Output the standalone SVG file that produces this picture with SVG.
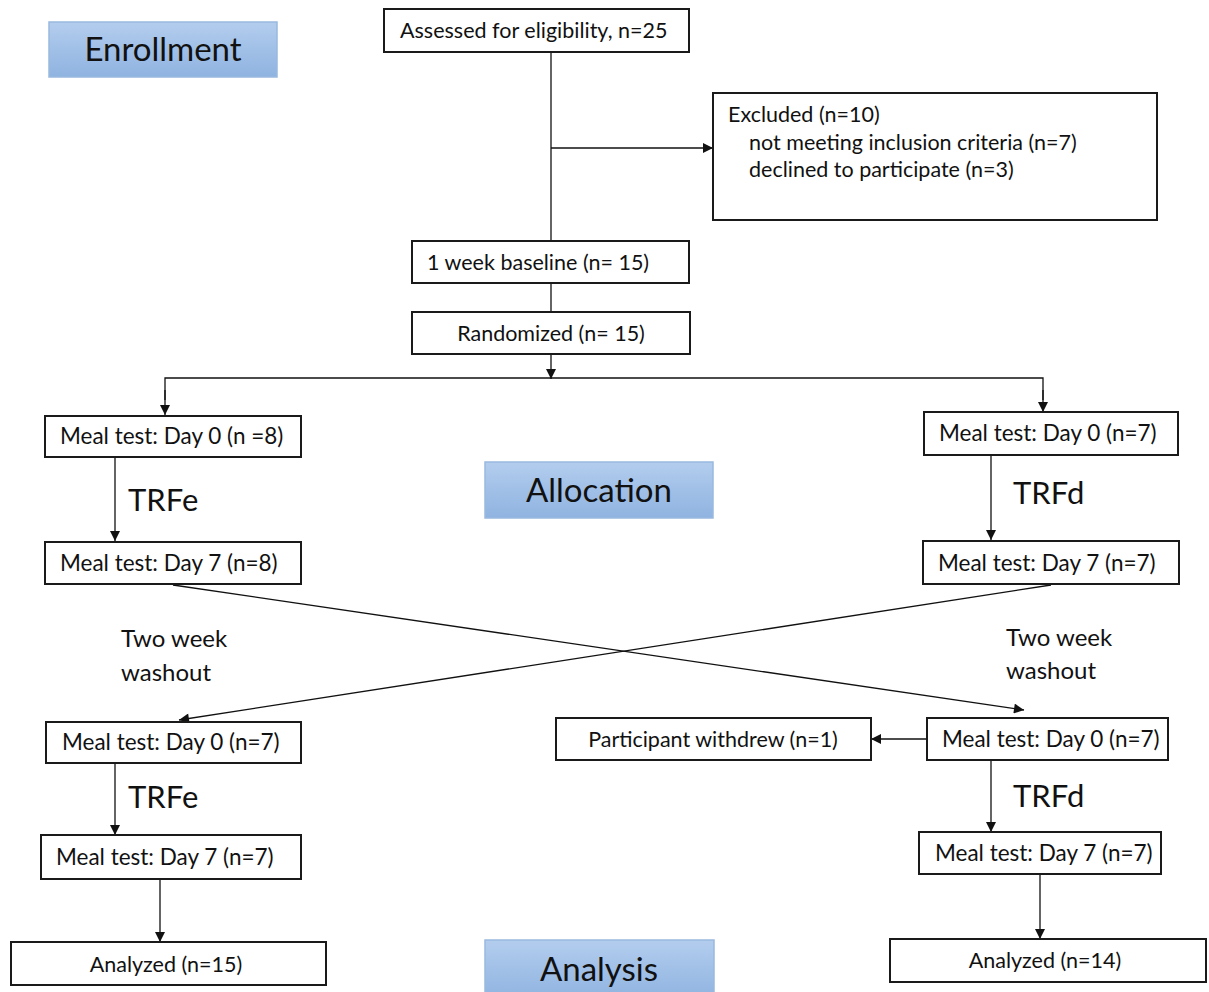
<svg xmlns="http://www.w3.org/2000/svg" width="1209" height="992" viewBox="0 0 1209 992">
<style>
.box{fill:#fff;stroke:#1a1a1a;stroke-width:2}
.t{font-family:Lato,"Liberation Sans",Arial,sans-serif;font-size:21.5px;fill:#111}
.m{font-size:22.5px}
.c{text-anchor:middle}
.big{font-family:Lato,"Liberation Sans",Arial,sans-serif;font-size:31px;fill:#111}
.st{font-family:Lato,"Liberation Sans",Arial,sans-serif;font-size:33px;fill:#111;text-anchor:middle}
.mid{font-family:Lato,"Liberation Sans",Arial,sans-serif;font-size:24px;fill:#111}
.stage{fill:url(#g);stroke:#9ab9e0;stroke-width:1.5}
.ln{stroke:#111;stroke-width:1.3;fill:none}
.ar{stroke:#111;stroke-width:1.3;fill:none;marker-end:url(#ah)}
</style>
<defs>
<linearGradient id="g" x1="0" y1="0" x2="0" y2="1">
<stop offset="0" stop-color="#b3cdee"/>
<stop offset="1" stop-color="#8fb3e0"/>
</linearGradient>
<marker id="ah" viewBox="0 0 10 10" refX="10" refY="5" markerWidth="11" markerHeight="10" markerUnits="userSpaceOnUse" orient="auto">
<path d="M0,0 L10,5 L0,10 z" fill="#111"/>
</marker>
</defs>
<rect width="1209" height="992" fill="#fff"/>
<g id="connectors">
<line class="ln" x1="551" y1="52" x2="551" y2="241"/>
<line class="ar" x1="551" y1="148" x2="713" y2="148"/>
<line class="ln" x1="551" y1="283" x2="551" y2="312"/>
<line class="ar" x1="551" y1="354" x2="551" y2="379"/>
<polyline class="ln" points="165,400 165,378 1043,378 1043,400"/>
<line class="ar" x1="165" y1="390" x2="165" y2="415"/>
<line class="ar" x1="1043" y1="390" x2="1043" y2="412"/>
<line class="ar" x1="115" y1="457" x2="115" y2="541"/>
<line class="ar" x1="991" y1="455" x2="991" y2="540"/>
<line class="ar" x1="173" y1="585" x2="1024" y2="710"/>
<line class="ar" x1="1051" y1="585" x2="179" y2="720"/>
<line class="ar" x1="927" y1="739" x2="871" y2="739"/>
<line class="ar" x1="115" y1="764" x2="115" y2="835"/>
<line class="ar" x1="991" y1="760" x2="991" y2="832"/>
<line class="ar" x1="160" y1="879" x2="160" y2="942"/>
<line class="ar" x1="1040" y1="874" x2="1040" y2="939"/>
</g>
<g id="enrollment"><rect class="stage" x="49" y="22" width="228" height="55"/><text class="st" x="163" y="61">Enrollment</text></g>
<g id="allocation"><rect class="stage" x="485" y="462" width="228" height="56"/><text class="st" x="599" y="502">Allocation</text></g>
<g id="analysis"><rect class="stage" x="485" y="940" width="229" height="60"/><text class="st" x="599" y="981">Analysis</text></g>
<g id="assessed"><rect class="box" x="384" y="9" width="305" height="43"/><text class="t" x="400" y="38">Assessed for eligibility, n=25</text></g>
<g id="excluded"><rect class="box" x="713" y="93" width="444" height="127"/>
<text class="t" x="728" y="122">Excluded (n=10)</text>
<text class="t" x="749" y="150">not meeting inclusion criteria (n=7)</text>
<text class="t" x="749" y="177">declined to participate (n=3)</text></g>
<g id="baseline"><rect class="box" x="412" y="241" width="277" height="42"/><text class="t" x="427" y="270">1 week baseline (n= 15)</text></g>
<g id="randomized"><rect class="box" x="412" y="312" width="278" height="42"/><text class="t c" x="551" y="341">Randomized (n= 15)</text></g>
<g id="l1"><rect class="box" x="45" y="416" width="256" height="41"/><text class="t m" x="60" y="444">Meal test: Day 0 (n =8)</text></g>
<g id="r1"><rect class="box" x="924" y="412" width="254" height="43"/><text class="t m" x="939" y="441">Meal test: Day 0 (n=7)</text></g>
<text class="big" x="128" y="511">TRFe</text>
<text class="big" x="1013" y="504">TRFd</text>
<g id="l2"><rect class="box" x="45" y="542" width="256" height="42"/><text class="t m" x="60" y="571">Meal test: Day 7 (n=8)</text></g>
<g id="r2"><rect class="box" x="923" y="541" width="256" height="43"/><text class="t m" x="938" y="571">Meal test: Day 7 (n=7)</text></g>
<text class="mid" x="121" y="647">Two week</text>
<text class="mid" x="121" y="681">washout</text>
<text class="mid" x="1006" y="646">Two week</text>
<text class="mid" x="1006" y="679">washout</text>
<g id="l3"><rect class="box" x="46" y="722" width="255" height="41"/><text class="t m" x="62" y="750">Meal test: Day 0 (n=7)</text></g>
<g id="withdrew"><rect class="box" x="556" y="718" width="315" height="42"/><text class="t c" x="713" y="747">Participant withdrew (n=1)</text></g>
<g id="r3"><rect class="box" x="927" y="718" width="241" height="42"/><text class="t m" x="942" y="747">Meal test: Day 0 (n=7)</text></g>
<text class="big" x="128" y="808">TRFe</text>
<text class="big" x="1013" y="807">TRFd</text>
<g id="l4"><rect class="box" x="41" y="835" width="260" height="44"/><text class="t m" x="56" y="865">Meal test: Day 7 (n=7)</text></g>
<g id="r4"><rect class="box" x="919" y="832" width="242" height="42"/><text class="t m" x="935" y="861">Meal test: Day 7 (n=7)</text></g>
<g id="analyzedL"><rect class="box" x="11" y="942" width="315" height="43"/><text class="t c" x="166" y="972">Analyzed (n=15)</text></g>
<g id="analyzedR"><rect class="box" x="890" y="939" width="316" height="43"/><text class="t c" x="1045" y="968">Analyzed (n=14)</text></g>
</svg>
